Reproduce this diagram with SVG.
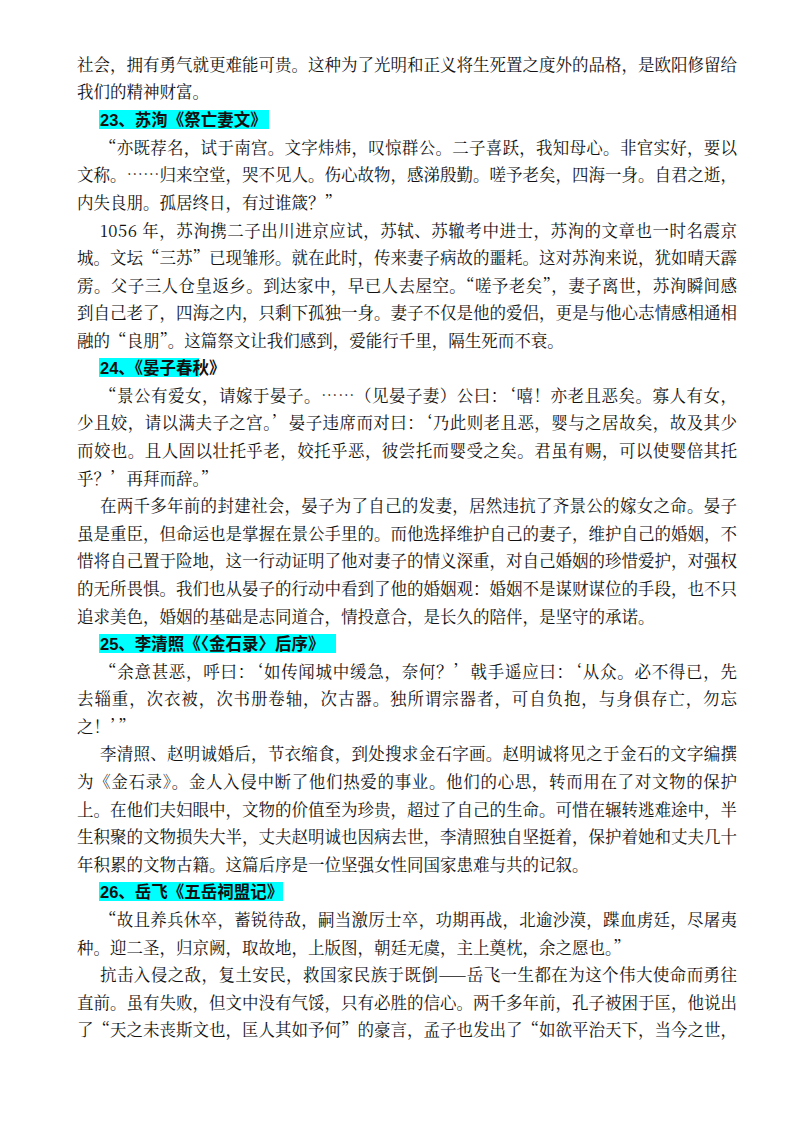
<svg xmlns="http://www.w3.org/2000/svg" width="800" height="1134" viewBox="0 0 800 1134">
<style>
text{font-family:"Noto Serif CJK SC","Noto Sans CJK SC",serif;font-size:16.5px;fill:#111}
.h{font-weight:bold;font-family:"Liberation Sans","Noto Sans CJK SC",sans-serif}
.hl{fill:#00FFFF}
</style>
<rect width="800" height="1134" fill="#fff"/>
<g id="highlights">
<rect class="hl" x="99" y="110" width="170" height="19"/>
<rect class="hl" x="99" y="358" width="100" height="19"/>
<rect class="hl" x="99" y="634" width="237" height="19"/>
<rect class="hl" x="99" y="882" width="184" height="19"/>
</g>
<g id="text">
<text x="77" y="71" textLength="660" lengthAdjust="spacing">社会，拥有勇气就更难能可贵。这种为了光明和正义将生死置之度外的品格，是欧阳修留给</text>
<text x="77" y="98">我们的精神财富。</text>
<text class="h" x="100" y="126">23、苏洵《祭亡妻文》</text>
<text x="100" y="154" textLength="637" lengthAdjust="spacing">“亦既荐名，试于南宫。文字炜炜，叹惊群公。二子喜跃，我知母心。非官实好，要以</text>
<text x="77" y="181" textLength="660" lengthAdjust="spacing">文称。……归来空堂，哭不见人。伤心故物，感涕殷勤。嗟予老矣，四海一身。自君之逝，</text>
<text x="77" y="209">内失良朋。孤居终日，有过谁箴？”</text>
<text x="100" y="237" textLength="637" lengthAdjust="spacing">1056 年，苏洵携二子出川进京应试，苏轼、苏辙考中进士，苏洵的文章也一时名震京</text>
<text x="77" y="264" textLength="660" lengthAdjust="spacing">城。文坛“三苏”已现雏形。就在此时，传来妻子病故的噩耗。这对苏洵来说，犹如晴天霹</text>
<text x="77" y="292" textLength="660" lengthAdjust="spacing">雳。父子三人仓皇返乡。到达家中，早已人去屋空。“嗟予老矣”，妻子离世，苏洵瞬间感</text>
<text x="77" y="319" textLength="660" lengthAdjust="spacing">到自己老了，四海之内，只剩下孤独一身。妻子不仅是他的爱侣，更是与他心志情感相通相</text>
<text x="77" y="347">融的“良朋”。这篇祭文让我们感到，爱能行千里，隔生死而不衰。</text>
<text class="h" x="100" y="374">24、《晏子春秋》</text>
<text x="100" y="402" textLength="637" lengthAdjust="spacing">“景公有爱女，请嫁于晏子。……（见晏子妻）公曰：‘嘻！亦老且恶矣。寡人有女，</text>
<text x="77" y="429" textLength="660" lengthAdjust="spacing">少且姣，请以满夫子之宫。’晏子违席而对曰：‘乃此则老且恶，婴与之居故矣，故及其少</text>
<text x="77" y="457" textLength="660" lengthAdjust="spacing">而姣也。且人固以壮托乎老，姣托乎恶，彼尝托而婴受之矣。君虽有赐，可以使婴倍其托</text>
<text x="77" y="485">乎？’再拜而辞。”</text>
<text x="100" y="512" textLength="637" lengthAdjust="spacing">在两千多年前的封建社会，晏子为了自己的发妻，居然违抗了齐景公的嫁女之命。晏子</text>
<text x="77" y="540" textLength="660" lengthAdjust="spacing">虽是重臣，但命运也是掌握在景公手里的。而他选择维护自己的妻子，维护自己的婚姻，不</text>
<text x="77" y="567" textLength="660" lengthAdjust="spacing">惜将自己置于险地，这一行动证明了他对妻子的情义深重，对自己婚姻的珍惜爱护，对强权</text>
<text x="77" y="595" textLength="660" lengthAdjust="spacing">的无所畏惧。我们也从晏子的行动中看到了他的婚姻观：婚姻不是谋财谋位的手段，也不只</text>
<text x="77" y="623">追求美色，婚姻的基础是志同道合，情投意合，是长久的陪伴，是坚守的承诺。</text>
<text class="h" x="100" y="650">25、李清照《〈金石录〉后序》</text>
<text x="100" y="678" textLength="637" lengthAdjust="spacing">“余意甚恶，呼曰：‘如传闻城中缓急，奈何？’戟手遥应曰：‘从众。必不得已，先</text>
<text x="77" y="705" textLength="660" lengthAdjust="spacing">去辎重，次衣被，次书册卷轴，次古器。独所谓宗器者，可自负抱，与身俱存亡，勿忘</text>
<text x="77" y="733">之！’”</text>
<text x="100" y="760" textLength="637" lengthAdjust="spacing">李清照、赵明诚婚后，节衣缩食，到处搜求金石字画。赵明诚将见之于金石的文字编撰</text>
<text x="77" y="788" textLength="660" lengthAdjust="spacing">为《金石录》。金人入侵中断了他们热爱的事业。他们的心思，转而用在了对文物的保护</text>
<text x="77" y="816" textLength="660" lengthAdjust="spacing">上。在他们夫妇眼中，文物的价值至为珍贵，超过了自己的生命。可惜在辗转逃难途中，半</text>
<text x="77" y="843" textLength="660" lengthAdjust="spacing">生积聚的文物损失大半，丈夫赵明诚也因病去世，李清照独自坚挺着，保护着她和丈夫几十</text>
<text x="77" y="871">年积累的文物古籍。这篇后序是一位坚强女性同国家患难与共的记叙。</text>
<text class="h" x="100" y="898">26、岳飞《五岳祠盟记》</text>
<text x="100" y="926" textLength="637" lengthAdjust="spacing">“故且养兵休卒，蓄锐待敌，嗣当激厉士卒，功期再战，北逾沙漠，蹀血虏廷，尽屠夷</text>
<text x="77" y="954">种。迎二圣，归京阙，取故地，上版图，朝廷无虞，主上奠枕，余之愿也。”</text>
<text x="100" y="981" textLength="637" lengthAdjust="spacing">抗击入侵之敌，复土安民，救国家民族于既倒——岳飞一生都在为这个伟大使命而勇往</text>
<text x="77" y="1009" textLength="660" lengthAdjust="spacing">直前。虽有失败，但文中没有气馁，只有必胜的信心。两千多年前，孔子被困于匡，他说出</text>
<text x="77" y="1036" textLength="660" lengthAdjust="spacing">了“天之未丧斯文也，匡人其如予何”的豪言，孟子也发出了“如欲平治天下，当今之世，</text>
</g>
</svg>
